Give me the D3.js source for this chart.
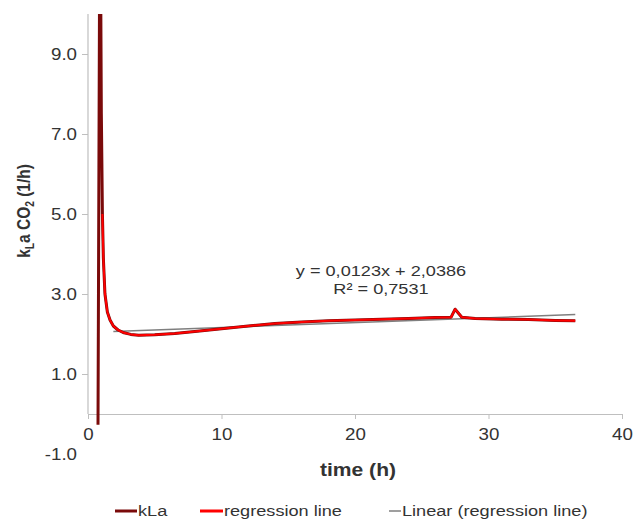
<!DOCTYPE html>
<html>
<head>
<meta charset="utf-8">
<script src="https://cdn.jsdelivr.net/npm/d3@7"></script>
<style>
  body { margin: 0; background: #fff; }
  text { font-family: "Liberation Sans", Arial, sans-serif; fill: #333; }
</style>
</head>
<body>
<div id="chart"></div>
<script>
// Width and height of chart
var width = 633;
var height = 524;

// kLa measurement (time in h, value in 1/h)
var kLaTime = [0.75, 0.9, 1.0, 1.08, 1.15, 1.27, 1.45, 1.65, 1.9, 2.25, 2.7, 3.2, 3.8, 5, 6.5, 8, 10, 12, 14, 16, 18, 20, 22, 24, 26, 27.2, 27.5, 28.0, 29, 31, 33, 35, 36.5];
var kLaValue = [-0.27, 14, 7.5, 5.0, 3.9, 3.0, 2.55, 2.35, 2.2, 2.1, 2.03, 1.99, 1.97, 1.98, 2.01, 2.06, 2.13, 2.2, 2.26, 2.3, 2.33, 2.35, 2.37, 2.39, 2.41, 2.42, 2.62, 2.42, 2.39, 2.37, 2.36, 2.34, 2.33];

// regression line series (starts on the descent)
var regTime = [1.08, 1.15, 1.27, 1.45, 1.65, 1.9, 2.25, 2.7, 3.2, 3.8, 5, 6.5, 8, 10, 12, 14, 16, 18, 20, 22, 24, 26, 27.2, 27.5, 28.0, 29, 31, 33, 35, 36.5];
var regValue = [5.0, 3.9, 3.0, 2.55, 2.35, 2.2, 2.1, 2.03, 1.99, 1.97, 1.98, 2.01, 2.06, 2.13, 2.2, 2.26, 2.3, 2.33, 2.35, 2.37, 2.39, 2.41, 2.42, 2.62, 2.42, 2.39, 2.37, 2.36, 2.34, 2.33];

// linear trend of the regression line
var trendSlope = 0.0123;
var trendIntercept = 2.0386;
var trendRange = [1.9, 36.5];
var trendLabel = ["y = 0,0123x + 2,0386", "R\u00b2 = 0,7531"];

var xTicks = [0, 10, 20, 30, 40];
var yTicks = [-1, 1, 3, 5, 7, 9];
var legendText = ["kLa", "regression line", "Linear (regression line)"];

// glyphs in the picture are a bit wider than Liberation Sans
var stretchX = 1.17;
var stretch = function(sel) {
  sel.each(function() {
    var len = this.getComputedTextLength();
    d3.select(this)
      .attr("textLength", len * stretchX)
      .attr("lengthAdjust", "spacingAndGlyphs");
  });
};

var x = d3.scaleLinear().domain([0, 40]).range([88, 622]);
var y = d3.scaleLinear().domain([-1, 10]).range([454, 14]);

var svg = d3.select("#chart")
  .append("svg")
  .attr("width", width)
  .attr("height", height);

svg.append("clipPath")
    .attr("id", "plot")
  .append("rect")
    .attr("x", x(0))
    .attr("y", y(10))
    .attr("width", x(40) - x(0))
    .attr("height", y(-1) - y(10));

// Y axis
var yAxis = svg.append("g")
  .attr("transform", "translate(" + x(0) + ",0)")
  .call(d3.axisLeft(y).tickValues(yTicks)
    .tickFormat(function(d) { return d.toFixed(1); })
    .tickSize(6).tickPadding(5));
yAxis.select(".domain").remove();
yAxis.selectAll(".tick line").attr("stroke", "#bfbfbf")
  .filter(function(d) { return d < 0; }).remove();
yAxis.selectAll(".tick text")
  .attr("font-size", 16)
  .attr("font-family", null)
  .attr("fill", "#333")
  .call(stretch);
yAxis.append("line")
  .attr("y1", y(0))
  .attr("y2", y(10))
  .attr("stroke", "#bfbfbf")
  .attr("stroke-width", 1.2);

// X axis crosses at zero
var xAxis = svg.append("g")
  .attr("transform", "translate(0," + y(0) + ")")
  .call(d3.axisBottom(x).tickValues(xTicks).tickSize(5).tickPadding(10).tickSizeOuter(0));
xAxis.select(".domain").attr("stroke", "#bfbfbf").attr("stroke-width", 1.2);
xAxis.selectAll(".tick line").attr("stroke", "#bfbfbf");
xAxis.selectAll(".tick text")
  .attr("font-size", 16)
  .attr("font-family", null)
  .attr("fill", "#333")
  .call(stretch);

// axis titles
svg.append("text")
  .attr("x", 358)
  .attr("y", 476)
  .attr("text-anchor", "middle")
  .attr("font-size", 18)
  .attr("font-weight", "bold")
  .attr("fill", "#222")
  .text("time (h)")
  .call(stretch);

var yTitle = svg.append("text")
  .attr("transform", "translate(30,211) rotate(-90) scale(0.86,1)")
  .attr("text-anchor", "middle")
  .attr("font-size", 18)
  .attr("font-weight", "bold")
  .attr("fill", "#222");
yTitle.append("tspan").text("k");
yTitle.append("tspan").attr("font-size", 12).attr("dy", 4).text("L");
yTitle.append("tspan").attr("dy", -4).text("a CO");
yTitle.append("tspan").attr("font-size", 12).attr("dy", 4).text("2");
yTitle.append("tspan").attr("dy", -4).text(" (1/h)");

// lines
var line = d3.line()
  .x(function(d) { return x(d[0]); })
  .y(function(d) { return y(d[1]); });

var plot = svg.append("g").attr("clip-path", "url(#plot)");

plot.append("path")
  .datum(trendRange.map(function(t) { return [t, trendSlope * t + trendIntercept]; }))
  .attr("d", line)
  .attr("fill", "none")
  .attr("stroke", "#7f7f7f")
  .attr("stroke-width", 1.5);

plot.append("path")
  .datum(kLaTime.map(function(t, i) { return [t, kLaValue[i]]; }))
  .attr("d", line)
  .attr("fill", "none")
  .attr("stroke", "#7a0a0a")
  .attr("stroke-width", 3)
  .attr("stroke-linejoin", "round");

plot.append("path")
  .datum(regTime.map(function(t, i) { return [t, regValue[i]]; }))
  .attr("d", line)
  .attr("fill", "none")
  .attr("stroke", "#ff0000")
  .attr("stroke-width", 2)
  .attr("stroke-linejoin", "round");

// trend equation
svg.selectAll(".eq")
  .data(trendLabel)
  .enter()
  .append("text")
    .attr("class", "eq")
    .attr("x", 381)
    .attr("y", function(d, i) { return 276 + i * 18; })
    .attr("text-anchor", "middle")
    .attr("font-size", 15.5)
    .text(function(d) { return d; })
    .call(stretch);

// legend
var legendX = [115, 200, 389];
var legendLen = [22, 23, 12];
var legendColor = ["#7a0a0a", "#ff0000", "#7f7f7f"];
var legendWidth = [3, 3, 1.5];
var legend = svg.selectAll(".legend")
  .data(legendText)
  .enter()
  .append("g")
  .attr("class", "legend")
  .attr("transform", function(d, i) { return "translate(" + legendX[i] + ",511)"; });
legend.append("line")
  .attr("x2", function(d, i) { return legendLen[i]; })
  .attr("stroke", function(d, i) { return legendColor[i]; })
  .attr("stroke-width", function(d, i) { return legendWidth[i]; });
legend.append("text")
  .attr("x", function(d, i) { return legendLen[i] + 1; })
  .attr("y", 5)
  .attr("font-size", 15.5)
  .text(function(d) { return d; })
  .call(stretch);
</script>
</body>
</html>
